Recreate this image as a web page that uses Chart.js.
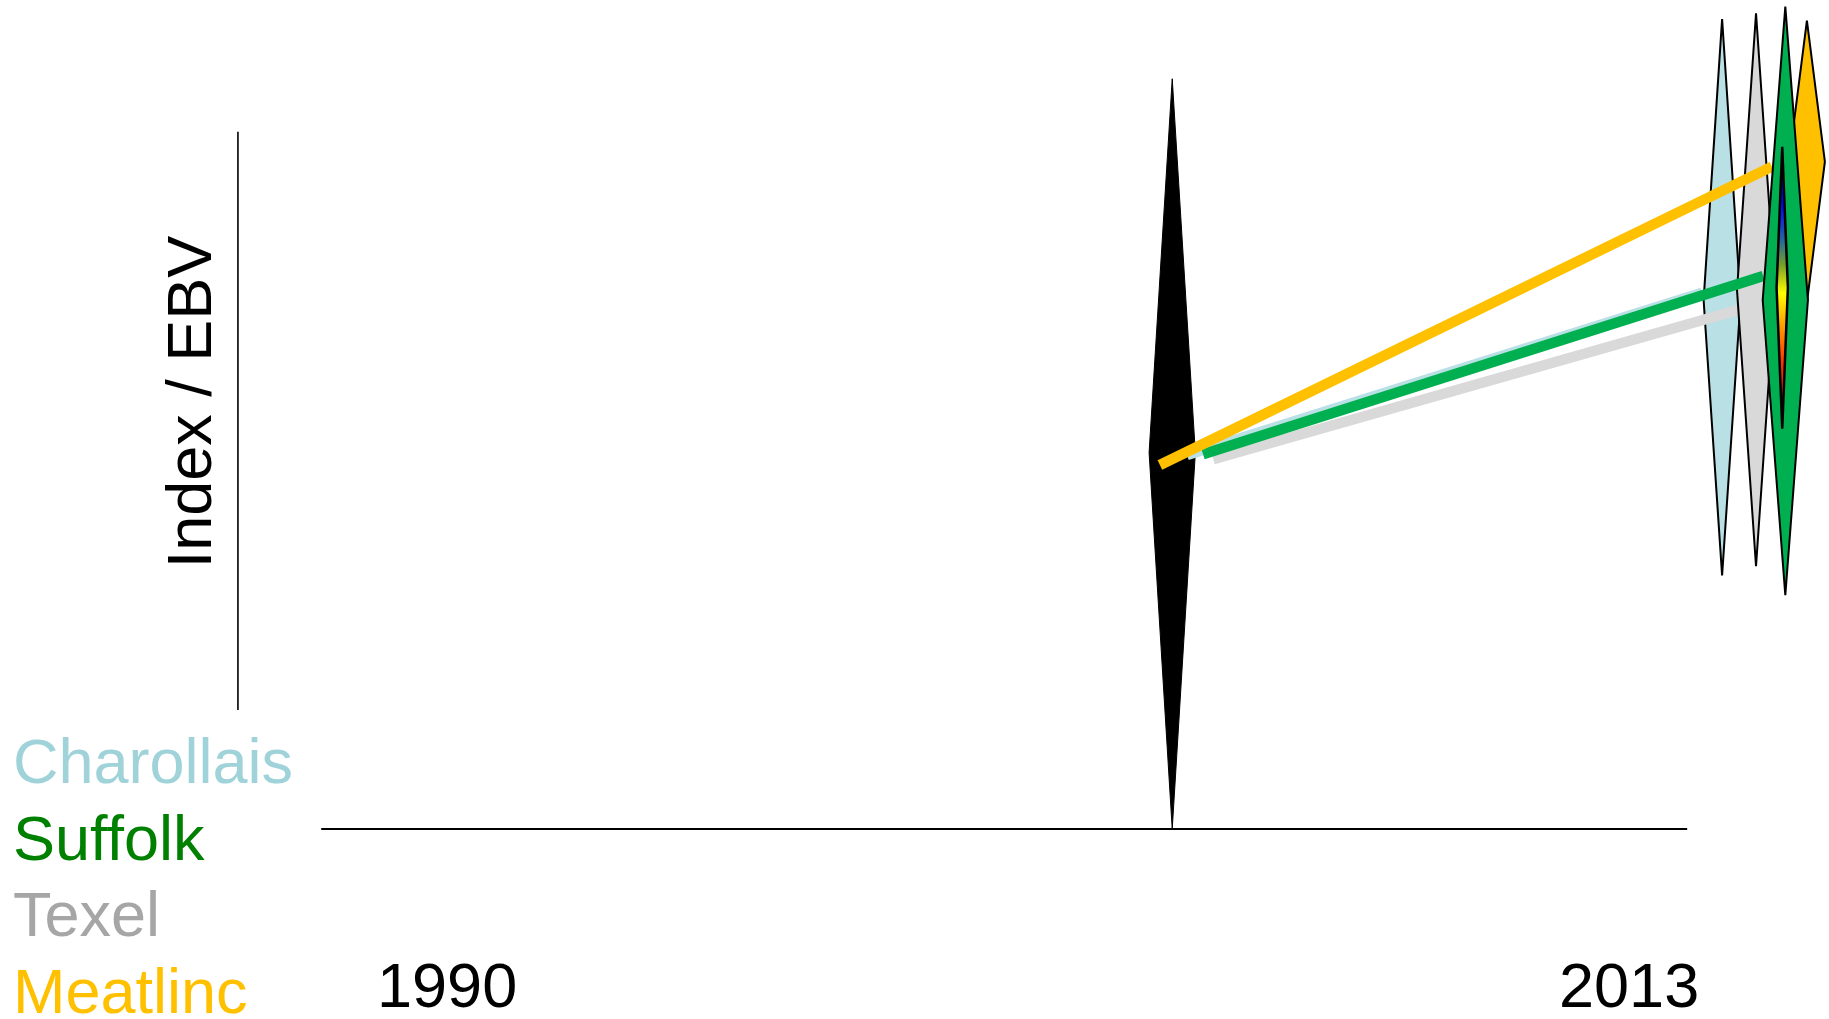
<!DOCTYPE html>
<html>
<head>
<meta charset="utf-8">
<script src="https://cdn.jsdelivr.net/npm/chart.js@4.4.1/dist/chart.umd.min.js"></script>
<style>
  html, body { margin: 0; padding: 0; background: #ffffff; overflow: hidden; }
  canvas { display: block; }
</style>
</head>
<body>
<canvas id="chart" width="1829" height="1019"></canvas>
<script>
// breeds, in legend order
const breeds = ['Charollais', 'Suffolk', 'Texel', 'Meatlinc']
const xTicks = [1990, 2013]

// starting distribution (all breeds, ~2004)
const baseYear = 2004.11
const baseHalf = 0.45
const baseTop = 90.5
const baseMid = 45.4
const baseLow = 0

// current distribution per breed (same order as breeds)
const diamondYear = [2014.81, 2016.04, 2015.47, 2016.46]
const diamondHalf = [0.36, 0.44, 0.37, 0.35]
const diamondTop = [97.7, 99.2, 98.4, 97.5]
const diamondMid = [63.8, 63.8, 65.0, 80.5]
const diamondLow = [30.6, 28.2, 31.7, 63.5]

// genetic trend lines per breed
const trendStartYear = [2004.40, 2004.71, 2004.91, 2003.87]
const trendStartVal = [45.1, 45.2, 44.6, 43.9]
const trendEndYear = [2014.42, 2015.61, 2015.12, 2015.78]
const trendEndVal = [64.7, 66.7, 62.6, 79.9]

// elite Suffolk group inside the Suffolk diamond
const eliteYear = 2015.98
const eliteHalf = 0.11
const eliteTop = 82.3
const eliteMid = 65.3
const eliteLow = 48.3

const textColors = ['#9fd3d9', '#008000', '#a6a6a6', '#ffc000']
const fillColors = ['#b9e0e5', '#00b050', '#d9d9d9', '#ffc000']
const FONT = '"Liberation Sans", Arial, sans-serif'

const diamond = (x, half, top, mid, low) => [
  { x: x, y: top },
  { x: x + half, y: mid },
  { x: x, y: low },
  { x: x - half, y: mid },
  { x: x, y: top }
]

const shapeSet = (points, fill, border, width) => ({
  data: points,
  fill: 'shape',
  backgroundColor: fill,
  borderColor: border,
  borderWidth: width,
  borderJoinStyle: 'miter',
  pointRadius: 0,
  tension: 0
})

const trendSet = (i) => ({
  data: [
    { x: trendStartYear[i], y: trendStartVal[i] },
    { x: trendEndYear[i], y: trendEndVal[i] }
  ],
  fill: false,
  borderColor: fillColors[i],
  borderWidth: 10.5,
  borderCapStyle: 'butt',
  pointRadius: 0
})

const rainbow = (context) => {
  const chart = context.chart
  if (!chart.chartArea) return '#ffff00'
  const y = chart.scales.y
  const g = chart.ctx.createLinearGradient(0, y.getPixelForValue(eliteTop), 0, y.getPixelForValue(eliteLow))
  g.addColorStop(0, '#0000ff')
  g.addColorStop(0.2, '#0000ff')
  g.addColorStop(0.34, '#2a6e90')
  g.addColorStop(0.42, '#7aa028')
  g.addColorStop(0.52, '#ffff00')
  g.addColorStop(0.64, '#ff9a00')
  g.addColorStop(0.78, '#ff2a00')
  g.addColorStop(1, '#c00000')
  return g
}

// drawing order, bottom to top
const datasets = [
  shapeSet(diamond(baseYear, baseHalf, baseTop, baseMid, baseLow), '#000000', '#000000', 1),
  shapeSet(diamond(diamondYear[0], diamondHalf[0], diamondTop[0], diamondMid[0], diamondLow[0]), fillColors[0], '#000000', 2),
  trendSet(0),
  trendSet(2),
  shapeSet(diamond(diamondYear[2], diamondHalf[2], diamondTop[2], diamondMid[2], diamondLow[2]), fillColors[2], '#000000', 2),
  trendSet(1),
  trendSet(3),
  shapeSet(diamond(diamondYear[3], diamondHalf[3], diamondTop[3], diamondMid[3], diamondLow[3]), fillColors[3], '#000000', 2),
  shapeSet(diamond(diamondYear[1], diamondHalf[1], diamondTop[1], diamondMid[1], diamondLow[1]), fillColors[1], '#000000', 2),
  shapeSet(diamond(eliteYear, eliteHalf, eliteTop, eliteMid, eliteLow), rainbow, '#000000', 2.5)
]
datasets.forEach((d, i) => { d.order = datasets.length - i })

// axis lines, title, legend and year labels
const decor = {
  id: 'decor',
  beforeDatasetsDraw(chart) {
    const { ctx, scales: { x, y } } = chart
    ctx.save()
    ctx.strokeStyle = '#000000'
    ctx.lineWidth = 1.6
    ctx.beginPath()
    ctx.moveTo(x.getPixelForValue(1985.93), y.getPixelForValue(84.1))
    ctx.lineTo(x.getPixelForValue(1985.93), y.getPixelForValue(14.35))
    ctx.stroke()
    ctx.lineWidth = 2
    ctx.beginPath()
    ctx.moveTo(x.getPixelForValue(1987.55), y.getPixelForValue(0))
    ctx.lineTo(x.getPixelForValue(2014.13), y.getPixelForValue(0))
    ctx.stroke()
    ctx.restore()
  },
  afterDatasetsDraw(chart) {
    const { ctx, scales: { x } } = chart
    ctx.save()
    ctx.font = '63px ' + FONT
    ctx.textBaseline = 'alphabetic'
    // y title
    ctx.save()
    ctx.translate(211, 402)
    ctx.rotate(-Math.PI / 2)
    ctx.textAlign = 'center'
    ctx.fillStyle = '#000000'
    ctx.fillText('Index / EBV', 0, 0)
    ctx.restore()
    // legend
    ctx.textAlign = 'left'
    breeds.forEach((b, i) => {
      ctx.fillStyle = textColors[i]
      ctx.fillText(b, 13, 783 + i * 76.7)
    })
    // year labels
    ctx.textAlign = 'center'
    ctx.fillStyle = '#000000'
    xTicks.forEach(t => ctx.fillText(String(t), x.getPixelForValue(t), 1007))
    ctx.restore()
  }
}

new Chart(document.getElementById('chart'), {
  type: 'line',
  data: { datasets: datasets },
  options: {
    responsive: false,
    devicePixelRatio: 1,
    animation: false,
    layout: { padding: 0 },
    scales: {
      x: { type: 'linear', min: 1981.30, max: 2016.89, display: false },
      y: { type: 'linear', min: -22.92, max: 100, display: false }
    },
    plugins: {
      legend: { display: false },
      tooltip: { enabled: false }
    }
  },
  plugins: [decor]
})
</script>
</body>
</html>
